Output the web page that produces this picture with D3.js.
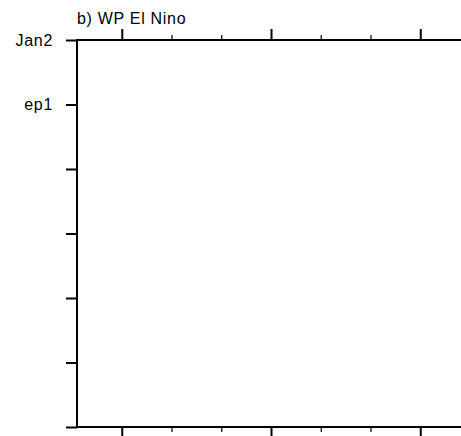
<!doctype html>
<html>
  <head>
    <script src="https://cdnjs.cloudflare.com/ajax/libs/d3/7.8.5/d3.min.js"></script>
    <style>
      body { margin: 0; background: #fff; }
      text { font-family: "Liberation Sans", Arial, Helvetica, sans-serif; }
    </style>
  </head>
  <body>
    <svg width="461" height="436"></svg>
    <script>
        // y tick positions (top to bottom) and their labels
        var yTicks = [0, 1, 2, 3, 4, 5, 6];
        var yLabels = ["Jan2", "ep1", "", "", "", "", ""];
        // x ticks: majors and minors, no labels
        var xMajor = [0, 3, 6];
        var xMinor = [1, 2, 4, 5, 7];
        var xDomain = [-0.9, 7.0];
        var title = "b) WP El Nino";

        drawChart();

        function drawChart() {
            var svg = d3.select("svg");
            var pLeft = 77, pRight = 470, pTop = 40, pBottom = 427;

            var xScale = d3.scaleLinear().domain(xDomain).range([pLeft, pRight]);
            var yScale = d3.scalePoint().domain(yTicks).range([pTop, pBottom]);

            // frame
            svg.append("rect")
                .attr("x", pLeft).attr("y", pTop)
                .attr("width", pRight - pLeft).attr("height", pBottom - pTop)
                .attr("fill", "none").attr("stroke", "#000").attr("stroke-width", 2);

            function styleAxis(g, w) {
                g.select(".domain").remove();
                g.selectAll("line").attr("stroke", "#000").attr("stroke-width", w);
            }

            // top axis
            svg.append("g").attr("transform", "translate(0," + pTop + ")")
                .call(d3.axisTop(xScale).tickValues(xMajor).tickSize(11).tickFormat(""))
                .call(g => styleAxis(g, 2));
            svg.append("g").attr("transform", "translate(0," + pTop + ")")
                .call(d3.axisTop(xScale).tickValues(xMinor).tickSize(5).tickFormat(""))
                .call(g => styleAxis(g, 1.2));

            // bottom axis
            svg.append("g").attr("transform", "translate(0," + pBottom + ")")
                .call(d3.axisBottom(xScale).tickValues(xMajor).tickSize(11).tickFormat(""))
                .call(g => styleAxis(g, 2));
            svg.append("g").attr("transform", "translate(0," + pBottom + ")")
                .call(d3.axisBottom(xScale).tickValues(xMinor).tickSize(5).tickFormat(""))
                .call(g => styleAxis(g, 1.2));

            // left axis
            svg.append("g").attr("transform", "translate(" + pLeft + ",0)")
                .call(d3.axisLeft(yScale).tickSize(11).tickPadding(13)
                    .tickFormat((d, i) => yLabels[i]))
                .call(g => styleAxis(g, 2))
                .call(g => g.selectAll("text")
                    .attr("font-size", 16).attr("fill", "#000")
                    .attr("letter-spacing", 0.7)
                    .style("font-family", "'Liberation Sans', Arial, sans-serif"));

            svg.append("text")
                .attr("x", pLeft).attr("y", 24)
                .attr("font-size", 16)
                .attr("letter-spacing", 0.7)
                .attr("fill", "#000")
                .text(title);
        }
    </script>
  </body>
</html>
